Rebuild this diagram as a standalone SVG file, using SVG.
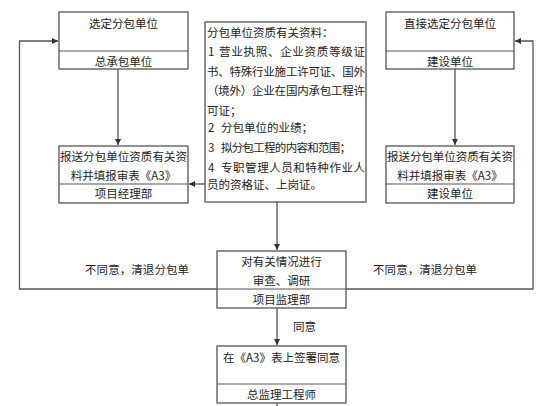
<svg xmlns="http://www.w3.org/2000/svg" width="560" height="406" viewBox="0 0 560 406">
<defs>
<marker id="arr" viewBox="0 0 10 10" refX="10" refY="5" markerWidth="6" markerHeight="6" markerUnits="userSpaceOnUse" orient="auto">
<path d="M0,0 L10,5 L0,10 z" fill="#333"/>
</marker>
<style>
.box{fill:#fff;stroke:#555;stroke-width:1.3}
.div{stroke:#555;stroke-width:1.2}
.t{font-family:"Noto Sans CJK SC","Noto Sans",sans-serif;font-size:11.5px;fill:#1e1e1e;dominant-baseline:central}
.c{text-anchor:middle}
.ln{fill:none;stroke:#555;stroke-width:1.3}
</style>
</defs>
<rect width="560" height="406" fill="#fff"/>
<g id="connectors">
<path class="ln" d="M277,289 H19.5 V41 H58" marker-end="url(#arr)"/>
<path class="ln" d="M277,289 H533 V41 H515" marker-end="url(#arr)"/>
<path class="ln" d="M118,69 V145" marker-end="url(#arr)"/>
<path class="ln" d="M455,69 V145" marker-end="url(#arr)"/>
<path class="ln" d="M205,184 H189" marker-end="url(#arr)"/>
<path class="ln" d="M277,202 V250" marker-end="url(#arr)"/>
<path class="ln" d="M277,308 V345" marker-end="url(#arr)"/>
<path class="ln" d="M277,403 V406"/>
<text class="t" x="85" y="269" textLength="104">不同意，清退分包单</text>
<text class="t" x="373" y="269" textLength="104">不同意，清退分包单</text>
<text class="t" x="293" y="326">同意</text>
</g>
<g id="n1">
<rect class="box" x="59" y="12" width="129" height="57"/>
<line class="div" x1="59" y1="51" x2="188" y2="51"/>
<text class="t c" x="123.5" y="23">选定分包单位</text>
<text class="t c" x="123.5" y="61">总承包单位</text>
</g>
<g id="n2">
<rect class="box" x="59" y="146" width="129" height="57"/>
<line class="div" x1="59" y1="184" x2="188" y2="184"/>
<text class="t" x="60" y="156" textLength="127">报送分包单位资质有关资</text>
<text class="t c" x="123.5" y="175">料并填报审表《A3》</text>
<text class="t c" x="123.5" y="193">项目经理部</text>
</g>
<g id="n3">
<rect class="box" x="386" y="12" width="128" height="57"/>
<line class="div" x1="386" y1="51" x2="514" y2="51"/>
<text class="t c" x="450" y="23">直接选定分包单位</text>
<text class="t c" x="450" y="61">建设单位</text>
</g>
<g id="n4">
<rect class="box" x="386" y="146" width="128" height="57"/>
<line class="div" x1="386" y1="184" x2="514" y2="184"/>
<text class="t" x="387" y="156" textLength="126">报送分包单位资质有关资</text>
<text class="t c" x="450" y="175">料并填报审表《A3》</text>
<text class="t c" x="450" y="193">建设单位</text>
</g>
<g id="n5">
<rect class="box" x="205" y="22" width="161" height="180"/>
<text class="t" x="207" y="32">分包单位资质有关资料：</text>
<text class="t" x="208" y="51">1</text>
<text class="t" x="219" y="51" textLength="146">营业执照、企业资质等级证</text>
<text class="t" x="207" y="71" textLength="158">书、特殊行业施工许可证、国外</text>
<text class="t" x="207" y="90" textLength="158">（境外）企业在国内承包工程许</text>
<text class="t" x="207" y="110">可证；</text>
<text class="t" x="208" y="127">2</text>
<text class="t" x="221" y="127">分包单位的业绩；</text>
<text class="t" x="208" y="147">3</text>
<text class="t" x="221" y="147" textLength="130">拟分包工程的内容和范围；</text>
<text class="t" x="208" y="167">4</text>
<text class="t" x="221" y="167" textLength="144">专职管理人员和特种作业人</text>
<text class="t" x="207" y="184">员的资格证、上岗证。</text>
</g>
<g id="n6">
<rect class="box" x="217" y="251" width="129" height="57"/>
<line class="div" x1="217" y1="289" x2="346" y2="289"/>
<text class="t c" x="281.5" y="261">对有关情况进行</text>
<text class="t c" x="281.5" y="280">审查、调研</text>
<text class="t c" x="281.5" y="299">项目监理部</text>
</g>
<g id="n7">
<rect class="box" x="217" y="346" width="129" height="57"/>
<line class="div" x1="217" y1="384" x2="346" y2="384"/>
<text class="t c" x="281.5" y="357">在《A3》表上签署同意</text>
<text class="t c" x="281.5" y="394">总监理工程师</text>
</g>
</svg>
